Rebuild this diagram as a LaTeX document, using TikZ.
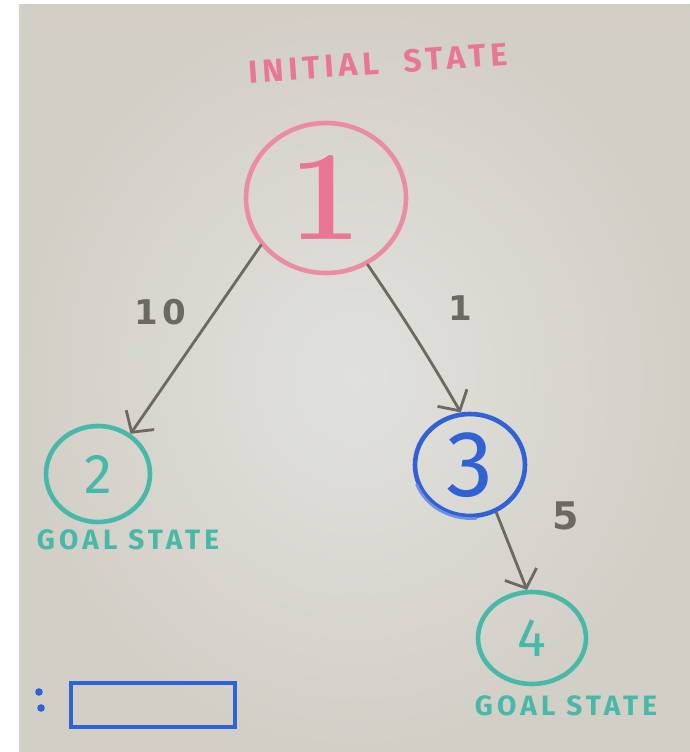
\documentclass[tikz,border=0pt]{standalone}
\usepackage{fontspec}
\newfontfamily\hand{Fira Sans}
\newfontfamily\handwide[LetterSpace=15]{Fira Sans}
\newfontfamily\costfont[LetterSpace=12]{DejaVu Sans}
\usetikzlibrary{arrows.meta,shapes.geometric}
\definecolor{boardedge}{RGB}{210,207,199}
\definecolor{boardmid}{RGB}{225,225,220}
\definecolor{pinkink}{RGB}{232,118,148}
\definecolor{tealink}{RGB}{72,184,168}
\definecolor{blueink}{RGB}{48,98,214}
\definecolor{greyink}{RGB}{108,104,98}
\begin{document}
\begin{tikzpicture}[x=1pt,y=-1pt,
  state/.style={ellipse, draw, line width=4.6pt, inner sep=0pt},
  edge/.style={draw=greyink, line width=2.8pt, line cap=round,
    -{Straight Barb[length=15pt,width=34pt,line width=2.8pt]}},
  weight/.style={text=greyink, font=\costfont\bfseries\fontsize{34}{34}\selectfont},
  caption/.style={font=\handwide\bfseries\fontsize{28}{28}\selectfont}]
  % paper and whiteboard
  \useasboundingbox (0,0) rectangle (690,752);
  \fill[white] (0,0) rectangle (690,752);
  \shade[inner color=boardmid, outer color=boardedge] (19,5) rectangle (690,752);

  % states
  \node[state, draw=pinkink!85, minimum width=160pt, minimum height=150pt,
        text=pinkink, font=\bfseries\fontsize{128}{128}\selectfont] (n1) at (326,198) {1};
  \node[state, draw=tealink, minimum width=104pt, minimum height=96pt,
        text=tealink, font=\hand\fontsize{56}{56}\selectfont] (n2) at (98,474) {2};
  \node[state, draw=blueink, minimum width=110pt, minimum height=102pt,
        text=blueink, font=\hand\fontsize{94}{94}\selectfont] (n3) at (470,465) {3};
  \node[state, draw=tealink, minimum width=108pt, minimum height=92pt,
        text=tealink, font=\hand\fontsize{54}{54}\selectfont] (n4) at (532,638) {4};

  % extra marker stroke around state 3
  \draw[blueink!70, line width=2.6pt, line cap=round]
    (n3.200) arc[start angle=200, end angle=275, x radius=58pt, y radius=52pt];

  % captions
  \node[caption, text=pinkink, font=\handwide\bfseries\fontsize{32}{32}\selectfont, rotate=4]
    (init) at (378,63) {INITIAL\ \ STATE};
  \node[caption, text=tealink] (goal2) at (128,540) {GOAL STATE};
  \node[caption, text=tealink] (goal4) at (566,706) {GOAL STATE};

  % transitions with their costs
  \draw[edge] (n1.216) -- (n2.51);
  \draw[edge] (n1.302) to[bend left=2] (n3.100);
  \draw[edge] (n3.299) -- (n4.96);
  \node[weight] (w12) at (160,312) {10};
  \node[weight] (w13) at (460,308) {1};
  \node[weight, font=\costfont\bfseries\fontsize{38}{38}\selectfont] (w34) at (566,516) {5};

  % colon and empty box
  \fill[blueink] (39,692) circle (3.8pt);
  \fill[blueink] (41,708) circle (3.8pt);
  \node[draw=blueink, line width=3.4pt, minimum width=164pt, minimum height=44pt,
        inner sep=0pt] (box) at (153,705) {};
\end{tikzpicture}
\end{document}
